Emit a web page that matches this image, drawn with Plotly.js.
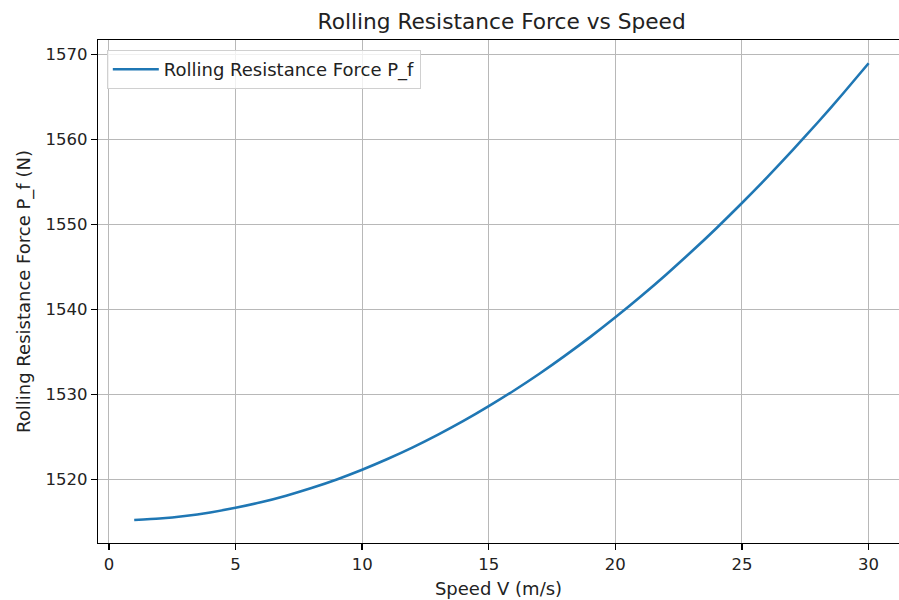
<!DOCTYPE html>
<html>
<head>
<meta charset="utf-8">
<script src="https://cdn.plot.ly/plotly-3.0.1.min.js"></script>
<style>html,body{margin:0;padding:0;background:#fff;}#chart{width:899px;height:600px;}</style>
</head>
<body>
<div id="chart"></div>
<script>
// Speed V (m/s)
const speed = [1,2,3,4,5,6,7,8,9,10,11,12,13,14,15,16,17,18,19,20,21,22,23,24,25,26,27,28,29,30];
// Rolling resistance force P_f (N)
const force = [1515.20,1515.38,1515.68,1516.10,1516.64,1517.29,1518.07,1518.97,1519.98,1521.12,
               1522.38,1523.75,1525.25,1526.86,1528.60,1530.45,1532.42,1534.52,1536.73,1539.06,
               1541.51,1544.08,1546.77,1549.58,1552.52,1555.56,1558.73,1562.02,1565.43,1568.96];
const xTicks = [0,5,10,15,20,25,30];
const yTicks = [1520,1530,1540,1550,1560,1570];

const font = 'DejaVu Sans, sans-serif';
const trace = {
  x: speed, y: force, type: 'scatter', mode: 'lines',
  name: 'Rolling Resistance Force P_f',
  line: {color: '#1f77b4', width: 2.6, shape: 'spline', smoothing: 0.6}
};
const axisCommon = {
  showgrid: true, gridcolor: '#b8b8b8', gridwidth: 1,
  showline: true, linecolor: '#000', linewidth: 1.3,
  ticks: 'outside', ticklen: 6, tickwidth: 1.3, tickcolor: '#000',
  tickfont: {family: font, size: 16.5, color: '#222'},
  zeroline: false
};
const layout = {
  width: 899, height: 600,
  margin: {l: 98, r: 0, t: 40, b: 57},
  paper_bgcolor: '#fff', plot_bgcolor: '#fff',
  font: {family: font, color: '#222'},
  title: {text: 'Rolling Resistance Force vs Speed', font: {family: font, size: 21.7, color: '#222'},
          x: 0.558, xanchor: 'center', y: 0.965, yanchor: 'middle', xref: 'container', yref: 'container'},
  xaxis: Object.assign({}, axisCommon, {
    range: [-0.43, 31.2], tickvals: xTicks, mirror: true,
    title: {text: 'Speed V (m/s)', font: {family: font, size: 18, color: '#222'}, standoff: 9}
  }),
  yaxis: Object.assign({}, axisCommon, {
    range: [1512.5, 1571.7], tickvals: yTicks, mirror: false,
    title: {text: 'Rolling Resistance Force P_f (N)', font: {family: font, size: 18, color: '#222'}, standoff: 10}
  }),
  showlegend: true,
  legend: {
    x: 0.011, y: 0.98, xanchor: 'left', yanchor: 'top', itemwidth: 46,
    bgcolor: 'rgba(255,255,255,0.8)', bordercolor: '#d0d0d0', borderwidth: 1,
    font: {family: font, size: 18, color: '#222'}
  }
};
Plotly.newPlot('chart', [trace], layout, {displayModeBar: false, staticPlot: true});
</script>
</body>
</html>
